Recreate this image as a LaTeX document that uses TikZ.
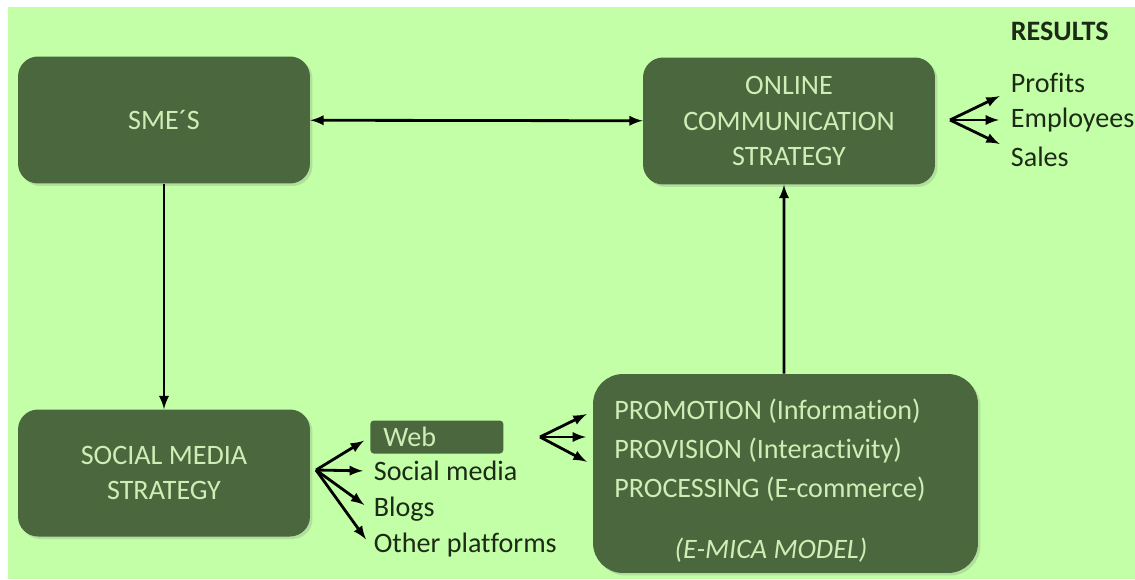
\documentclass[tikz,border=0pt]{standalone}
\usepackage{fontspec}
\setmainfont{Carlito}[RawFeature={-liga;-clig;-calt;-dlig}]
\usetikzlibrary{shadows}

\definecolor{bggreen}{HTML}{C2FFA6}
\definecolor{boxgreen}{HTML}{4B673E}
\definecolor{boxtext}{HTML}{CDEFB5}
\definecolor{listtext}{HTML}{1C2A16}

\tikzset{
  mainbox/.style={fill=boxgreen, rounded corners=0.4cm, text=boxtext, align=center,
    minimum width=5.84cm, minimum height=2.54cm, font=\fontsize{16}{20}\selectfont,
    drop shadow={opacity=0.25, shadow xshift=0.05cm, shadow yshift=-0.05cm}},
  boxline/.style={text=boxtext, anchor=west, inner sep=0pt, font=\fontsize{16}{20}\selectfont},
  listitem/.style={text=listtext, anchor=west, inner sep=2pt, font=\fontsize{16}{20}\selectfont},
  fan/.style={->, line width=1.6pt, shorten >=4pt},
  link/.style={line width=1.6pt}
}

\begin{document}
\begin{tikzpicture}[x=0.02cm, y=-0.02cm, >=latex]

\useasboundingbox (0,0) rectangle (1135,579);
\fill [white] (0,0) rectangle (1135,579);
\fill [bggreen] (8,7) rectangle (1135,579);

% boxes
\node (sme) [mainbox] at (164,120) {SME´S};
\node (online) [mainbox] at (789,121) {ONLINE\\COMMUNICATION\\STRATEGY};
\node (sms) [mainbox] at (164,473) {SOCIAL MEDIA\\STRATEGY};
\node (emica) [mainbox, rounded corners=0.6cm, minimum width=7.7cm, minimum height=3.98cm] at (785.5,473.5) {};
\node (promo) [boxline] at (614,411) {PROMOTION (Information)};
\node (provis) [boxline] at (614,450) {PROVISION (Interactivity)};
\node (process) [boxline] at (614,489) {PROCESSING (E-commerce)};
\node (model) [boxline, anchor=center] at (771,550) {\itshape (E-MICA MODEL)};

% channels
\node (web) [listitem, fill=boxgreen, text=boxtext, rounded corners=2pt, text width=2.14cm,
  inner xsep=0.26cm, minimum height=0.66cm] at (370,437) {Web};
\node (socmedia) [listitem] at (370,471) {Social media};
\node (blogs) [listitem] at (370,509) {Blogs};
\node (other) [listitem] at (370,545) {Other platforms};

% results
\node (results) [listitem, font=\fontsize{16}{20}\selectfont\bfseries] at (1007,31) {RESULTS};
\node (profits) [listitem] at (1007,83) {Profits};
\node (employees) [listitem] at (1007,120) {Employees};
\node (sales) [listitem] at (1007,157) {Sales};

% fan points
\coordinate (smfan) at (316,470);
\coordinate (emfan) at (540,437);
\coordinate (em1) at (593,411);
\coordinate (em2) at (593,437);
\coordinate (em3) at (593,465);
\coordinate (resfan) at (950,120);
\coordinate (r1) at (1006,93);
\coordinate (r2) at (1006,120);
\coordinate (r3) at (1006,147);

% links
\draw [link, <->] (sme) -- (online);
\draw [link, ->] (sme) -- (sms);
\draw [link, ->] (emica.north -| online.south) ++(-5,0) -- ([xshift=-0.1cm]online.south);

\foreach \t in {web, socmedia, blogs, other}
  \draw [fan] (smfan) -- (\t.west);
\foreach \t in {em1, em2, em3}
  \draw [fan] (emfan) -- (\t);
\foreach \t in {r1, r2, r3}
  \draw [fan] (resfan) -- (\t);

\end{tikzpicture}
\end{document}
